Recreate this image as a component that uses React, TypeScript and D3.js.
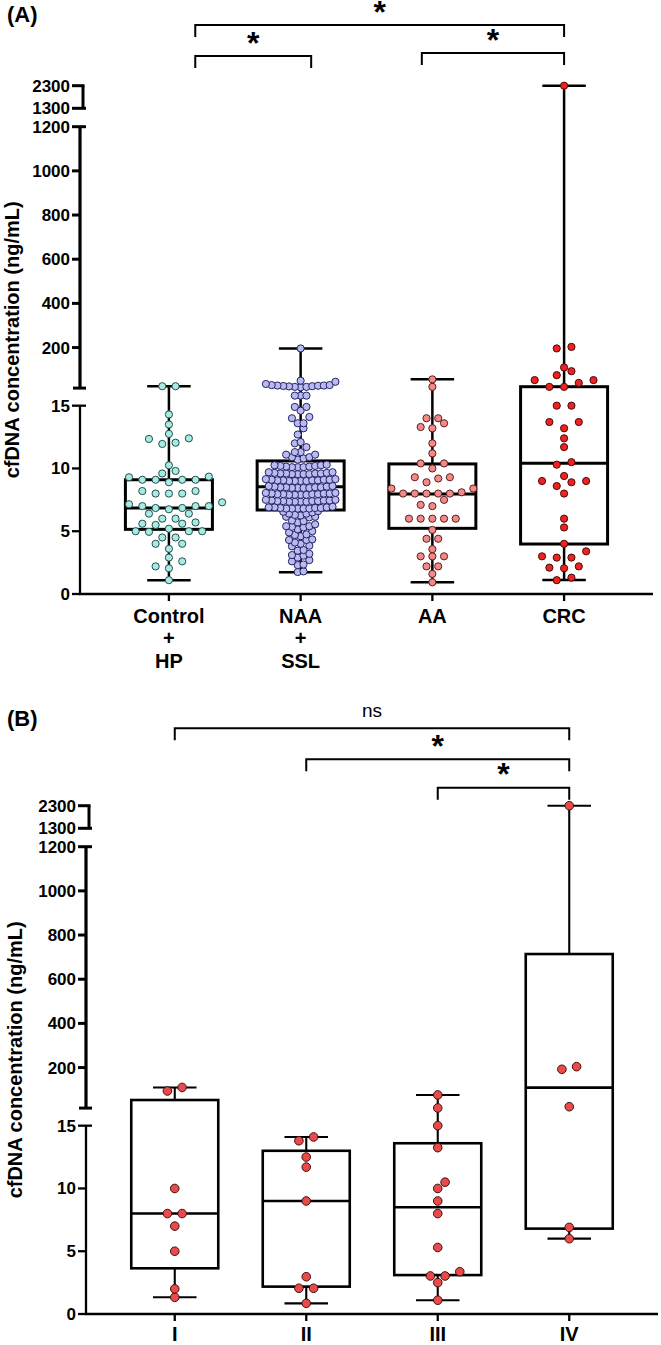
import React from "react";
import * as d3 from "d3";

const FONT = "'Liberation Sans', Arial, Helvetica, sans-serif";

// ---------- Panel A data ----------
const categoriesA = [["Control", "+", "HP"], ["NAA", "+", "SSL"], ["AA"], ["CRC"]];
const controlHP = [25, 25, 14.3, 13.5, 12.75, 12.4, 12.35, 12.05, 11.95, 10.25, 9.8, 9.6, 9.35, 9.3, 9.1, 9.1, 9.1, 9.1, 8.9, 8.2, 8.2, 8.0, 8.0, 8.0, 7.3, 7.15, 7.0, 7.0, 7.0, 6.85, 6.85, 6.75, 6.4, 6.4, 6.0, 6.0, 5.7, 5.6, 5.6, 5.5, 5.2, 5.0, 5.0, 5.0, 4.95, 4.5, 4.5, 4.0, 4.0, 3.6, 2.9, 2.6, 2.2, 2.05, 1.1];
const naaSSL = [196,
  22, 45, 28, 25, 27, 30, 35, 30, 26, 28, 24, 22, 20, 50,
  15.8, 15.8, 15.8, 14.9, 14.9, 14.6, 14.1, 14.0, 13.6, 13.6, 13.2, 12.7, 12.1, 12.0, 11.7, 11.3, 11.3, 11.1, 11.1, 10.9, 10.9, 10.8, 10.7,
  10.1, 10.15, 10.25, 10.1, 10.2, 10.3, 10.15, 10.1, 10.25, 10.2,
  9.55, 9.6, 9.7, 9.55, 9.65, 9.6, 9.55, 9.7, 9.6, 9.65, 9.55, 9.6,
  9.0, 9.05, 9.1, 9.0, 9.15, 9.05, 9.0, 9.1, 9.05, 9.0, 9.15, 9.1, 9.05,
  8.45, 8.5, 8.55, 8.45, 8.5, 8.6, 8.45, 8.55, 8.5, 8.45, 8.6, 8.5,
  7.9, 7.95, 8.0, 7.9, 7.95, 8.05, 7.9, 8.0, 7.95, 7.9, 8.0, 8.05, 7.95,
  7.35, 7.4, 7.35, 7.45, 7.4, 7.5, 7.35, 7.4, 7.45, 7.35, 7.5, 7.4, 7.45,
  6.8, 6.8, 6.85, 6.8, 6.9, 6.85, 6.8, 6.95, 6.9, 6.8, 6.85, 6.9,
  6.25, 6.3, 6.4, 6.4, 6.5, 6.55, 6.6,
  5.7, 5.8, 5.85, 6.1, 6.15, 6.15,
  5.15, 5.3, 5.35, 5.4, 5.4, 5.55,
  4.6, 4.7, 4.75, 4.9, 5.0,
  4.0, 4.1, 4.3, 4.3, 4.35,
  3.45, 3.5, 3.8, 3.85,
  2.9, 3.1, 3.05, 3.2,
  2.3, 2.35, 2.6, 2.7,
  1.75, 1.8];
const advancedAdenoma = [56, 22, 14.0, 14.0, 13.6, 13.3, 13.2, 12.0, 11.2, 10.4, 10.4, 10.0, 9.3, 9.3, 9.2, 8.9, 8.4, 8.4, 8.1, 8.0, 8.0, 8.0, 8.0, 8.0, 7.5, 7.1, 7.0, 6.0, 6.0, 6.0, 6.0, 6.0, 5.1, 4.4, 4.4, 3.57, 3.0, 3.0, 3.0, 2.2, 2.2, 1.6, 0.93];
const crc = [2300, 203, 196, 110, 93, 75, 52.6, 52.6, 40, 22, 22, 15.0, 15.0, 13.7, 13.7, 13.2, 12.4, 11.7, 10.5, 10.3, 9.4, 9.0, 9.0, 8.9, 8.6, 8.0, 6.0, 5.3, 4.0, 3.4, 3.0, 2.9, 2.9, 2.2, 2.1, 2.05, 1.3, 1.1];
const boxMinA = [1.1, 1.73, 0.93, 1.12];
const boxQ1A = [5.15, 6.69, 5.23, 3.98];
const boxMedA = [6.85, 8.55, 7.97, 10.41];
const boxQ3A = [9.1, 10.6, 10.36, 22.7];
const boxMaxA = [25, 196, 56, 2300];
const comparisonsA = [
  { from: 0, to: 3, label: "*" },
  { from: 0, to: 1, label: "*" },
  { from: 2, to: 3, label: "*" },
];

// ---------- Panel B data ----------
const categoriesB = [["I"], ["II"], ["III"], ["IV"]];
const stageI = [110, 94, 10.0, 8.0, 8.0, 7.0, 5.0, 2.0, 1.33];
const stageII = [14.1, 13.8, 12.5, 11.7, 9.0, 2.97, 2.05, 2.05, 0.85];
const stageIII = [76, 17, 15.0, 13.25, 10.5, 10.0, 9.0, 8.0, 5.3, 3.37, 3.03, 3.03, 2.5, 1.1];
const stageIV = [2300, 204, 192, 22.8, 6.9, 6.0];
const boxMinB = [1.33, 0.85, 1.1, 6.0];
const boxQ1B = [3.64, 2.18, 3.1, 6.8];
const boxMedB = [8.0, 9.0, 8.5, 109];
const boxQ3B = [53, 13.0, 13.6, 714];
const boxMaxB = [110, 14.1, 76, 2300];
const comparisonsB = [
  { from: 0, to: 3, label: "ns" },
  { from: 1, to: 3, label: "*" },
  { from: 2, to: 3, label: "*" },
];

// ---------- Axis definition ----------
const lowerTicks = [0, 5, 10, 15];
const middleTicks = [200, 400, 600, 800, 1000, 1200];
const upperTicks = [1300, 2300];
const segLower = [0, 16.4];
const segMiddle = [16.4, 1200];
const segUpper = [1300, 2300];
const yTitle = "cfDNA concentration (ng/mL)";

type Panel = {
  label: string;
  labelY: number;
  y0: number;
  axisX: number;
  xEnd: number;
  titleX: number;
  catY: number;
  categories: string[][];
  groups: number[][];
  mins: number[]; q1: number[]; med: number[]; q3: number[]; maxs: number[];
  comps: { from: number; to: number; label: string }[];
  compLayout: { y: number; a: number; b: number }[];
  fills: string[]; strokes: string[];
  steps: number[]; rows: number[]; r: number;
  boxW: number; boxStroke: number;
};

function makeY(y0: number) {
  const lower = d3.scaleLinear().domain(segLower).range([y0, y0 - 205.9]);
  const middle = d3.scaleLinear().domain(segMiddle).range([y0 - 205.9, y0 - 467.3]);
  const upper = d3.scaleLinear().domain(segUpper).range([y0 - 485.7, y0 - 508.3]);
  const f = (v: number) =>
    v <= segLower[1] ? lower(v) : v <= 1250 ? middle(Math.min(v, 1200)) : upper(Math.max(v, 1300));
  return { f, lower, middle, upper };
}

// Prism-like column scatter: points binned into rows, each row spread symmetrically.
function swarm(values: number[], y: (v: number) => number, cx: number, step: number, rowH: number, r: number) {
  const pts = values.map((v) => ({ y: y(v), off: 0 })).sort((a, b) => b.y - a.y);
  const bins: { y: number; off: number }[][] = [];
  let cur: { y: number; off: number }[] = [];
  for (const p of pts) {
    if (cur.length && cur[0].y - p.y >= rowH) {
      bins.push(cur);
      cur = [];
    }
    cur.push(p);
  }
  if (cur.length) bins.push(cur);
  const placed: { y: number; off: number }[] = [];
  const minD = 2 * r * 0.95;
  for (const bin of bins) {
    const n = bin.length;
    const offs = d3.range(n).map((k) => (k - (n - 1) / 2) * step);
    offs.sort((a, b) => Math.abs(a) - Math.abs(b) || a - b);
    const collides = (s: number) =>
      bin.some((p, k) => placed.some((q) => Math.hypot(q.off - (offs[k] + s), q.y - p.y) < minD));
    let shift = 0;
    if (collides(0)) {
      if (!collides(step / 2)) shift = step / 2;
      else if (!collides(-step / 2)) shift = -step / 2;
    }
    bin.forEach((p, k) => {
      p.off = offs[k] + shift;
      placed.push(p);
    });
  }
  return placed.map((p) => ({ x: cx + p.off, y: p.y }));
}

function PanelView({ p }: { p: Panel }) {
  const y = makeY(p.y0);
  const x = d3.scalePoint<number>().domain([0, 1, 2, 3]).range([p.axisX, p.xEnd]).padding(0.675);
  const xi = (i: number) => x(0)! + i * x.step();
  const top = y.f(2300);
  const aX = p.axisX;
  const capW = p.boxW / 2;
  return (
    <g>
      <text x={7} y={p.labelY} fontFamily={FONT} fontWeight="bold" fontSize={22}>{p.label}</text>
      {/* y title */}
      <text transform={`translate(${p.titleX},${(p.y0 + top) / 2}) rotate(-90)`} textAnchor="middle"
        fontFamily={FONT} fontWeight="bold" fontSize={20}>{yTitle}</text>
      {/* lower segment */}
      <line x1={aX} x2={aX} y1={y.lower(0) + 1} y2={y.lower(15)} stroke="#000" strokeWidth={2.3} />
      {lowerTicks.map((t) => (
        <g key={"l" + t}>
          <line x1={aX - 8} x2={t === 15 ? aX + 6 : aX} y1={y.lower(t)} y2={y.lower(t)} stroke="#000" strokeWidth={2.3} />
          <text x={aX - 10} y={y.lower(t) + 6} textAnchor="end" fontFamily={FONT} fontWeight="bold" fontSize={17}>{t}</text>
        </g>
      ))}
      {/* middle segment */}
      <line x1={aX} x2={aX} y1={y.middle(segMiddle[0])} y2={y.middle(1200)} stroke="#000" strokeWidth={3.2} />
      <line x1={aX - 7} x2={aX + 6} y1={y.middle(segMiddle[0])} y2={y.middle(segMiddle[0])} stroke="#000" strokeWidth={3} />
      {middleTicks.map((t) => (
        <g key={"m" + t}>
          <line x1={aX - 8} x2={t === 1200 ? aX + 6 : aX} y1={y.middle(t)} y2={y.middle(t)} stroke="#000" strokeWidth={3} />
          <text x={aX - 10} y={y.middle(t) + 6} textAnchor="end" fontFamily={FONT} fontWeight="bold" fontSize={17}>{t}</text>
        </g>
      ))}
      {/* upper segment */}
      <line x1={aX + 3} x2={aX + 3} y1={y.upper(1300)} y2={y.upper(2300)} stroke="#000" strokeWidth={3} />
      {upperTicks.map((t) => (
        <g key={"u" + t}>
          <line x1={aX - 8} x2={t === 1300 ? aX + 6 : aX + 4.5} y1={y.upper(t)} y2={y.upper(t)} stroke="#000" strokeWidth={3} />
          <text x={aX - 10} y={y.upper(t) + 6} textAnchor="end" fontFamily={FONT} fontWeight="bold" fontSize={17}>{t}</text>
        </g>
      ))}
      {/* x axis */}
      <line x1={aX - 1} x2={p.xEnd} y1={p.y0} y2={p.y0} stroke="#000" strokeWidth={2.3} />
      {p.categories.map((lines, i) => (
        <g key={"c" + i}>
          <line x1={x(i)} x2={x(i)} y1={p.y0} y2={p.y0 + 7} stroke="#000" strokeWidth={2.3} />
          <text x={x(i)} y={p.y0 + p.catY} textAnchor="middle" fontFamily={FONT} fontWeight="bold" fontSize={20}>
            {lines.map((s, k) => (
              <tspan key={k} x={x(i)} dy={k === 0 ? 0 : 22.7}>{s}</tspan>
            ))}
          </text>
        </g>
      ))}
      {/* boxes */}
      {p.groups.map((_, i) => {
        const cx = x(i)!;
        const yq1 = y.f(p.q1[i]), yq3 = y.f(p.q3[i]);
        return (
          <g key={"b" + i} stroke="#000" fill="none">
            <line x1={cx} x2={cx} y1={y.f(p.mins[i])} y2={yq1} strokeWidth={p.boxStroke - 0.5} />
            <line x1={cx} x2={cx} y1={yq3} y2={y.f(p.maxs[i])} strokeWidth={p.boxStroke - 0.5} />
            <line x1={cx - capW / 2} x2={cx + capW / 2} y1={y.f(p.mins[i])} y2={y.f(p.mins[i])} strokeWidth={p.boxStroke - 0.5} />
            <line x1={cx - capW / 2} x2={cx + capW / 2} y1={y.f(p.maxs[i])} y2={y.f(p.maxs[i])} strokeWidth={p.boxStroke - 0.5} />
            <rect x={cx - p.boxW / 2} y={yq3} width={p.boxW} height={yq1 - yq3} strokeWidth={p.boxStroke} />
            <line x1={cx - p.boxW / 2} x2={cx + p.boxW / 2} y1={y.f(p.med[i])} y2={y.f(p.med[i])} strokeWidth={p.boxStroke} />
          </g>
        );
      })}
      {/* points */}
      {p.groups.map((vals, i) => (
        <g key={"p" + i}>
          {swarm(vals, y.f, x(i)!, p.steps[i], p.rows[i], p.r).map((pt, k) => (
            <circle key={k} cx={pt.x} cy={pt.y} r={p.r} fill={p.fills[i]} stroke={p.strokes[i]} strokeWidth={1} />
          ))}
        </g>
      ))}
      {/* comparisons */}
      {p.comps.map((c, k) => {
        const L = p.compLayout[k];
        const x1 = xi(c.from + L.a), x2 = xi(c.to + L.b);
        const by = p.y0 - 594 + L.y;
        const isStar = c.label === "*";
        return (
          <g key={"s" + k}>
            <path d={`M${x1},${by + 12}V${by}H${x2}V${by + 12}`} fill="none" stroke="#000" strokeWidth={2} />
            <text x={(x1 + x2) / 2} y={isStar ? by - 2.5 : by - 11.6} textAnchor="middle" fontFamily={FONT}
              fontWeight={isStar ? "bold" : "normal"} fontSize={isStar ? 32 : 19}>{c.label}</text>
          </g>
        );
      })}
    </g>
  );
}

const panelA: Panel = {
  label: "(A)", labelY: 22, y0: 594, axisX: 80, xEnd: 653, titleX: 18.5, catY: 28.7,
  categories: categoriesA,
  groups: [controlHP, naaSSL, advancedAdenoma, crc],
  mins: boxMinA, q1: boxQ1A, med: boxMedA, q3: boxQ3A, maxs: boxMaxA,
  comps: comparisonsA,
  compLayout: [{ y: 25, a: 0.2, b: 0 }, { y: 56, a: 0.2, b: 0.08 }, { y: 53, a: -0.08, b: 0 }],
  fills: ["#a8ebe5", "#b9b9f3", "#f38a8a", "#ee2222"],
  strokes: ["#23504b", "#24245c", "#5a1e1e", "#4a0a0a"],
  steps: [13.3, 5.8, 11.7, 14.7], rows: [7, 6.5, 7, 7.5], r: 3.6,
  boxW: 87, boxStroke: 3,
};

const panelB: Panel = {
  label: "(B)", labelY: 725.5, y0: 1314, axisX: 86, xEnd: 658, titleX: 22, catY: 26.5,
  categories: categoriesB,
  groups: [stageI, stageII, stageIII, stageIV],
  mins: boxMinB, q1: boxQ1B, med: boxMedB, q3: boxQ3B, maxs: boxMaxB,
  comps: comparisonsB,
  compLayout: [{ y: 8.3, a: 0, b: 0 }, { y: 39.3, a: 0, b: 0 }, { y: 67.7, a: 0, b: 0 }],
  fills: ["#ec4a4a", "#ec4a4a", "#ec4a4a", "#ec4a4a"],
  strokes: ["#3a1010", "#3a1010", "#3a1010", "#3a1010"],
  steps: [14.7, 14.7, 14.7, 14.7], rows: [6, 6, 6, 6], r: 4.3,
  boxW: 87, boxStroke: 2.6,
};

export default function App() {
  return (
    <svg width={661} height={1345} viewBox="0 0 661 1345"
      style={{ position: "absolute", left: 0, top: 0, display: "block", background: "#fff" }}>
      <rect width={661} height={1345} fill="#fff" />
      <PanelView p={panelA} />
      <PanelView p={panelB} />
    </svg>
  );
}
